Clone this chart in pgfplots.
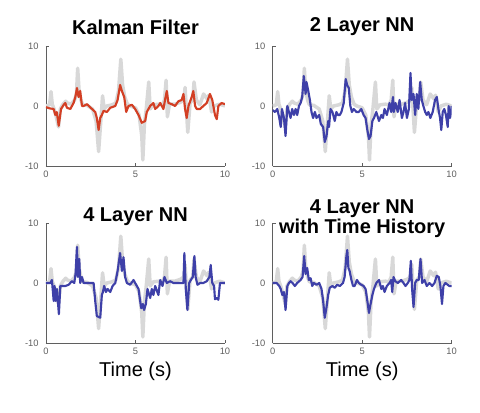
\documentclass[border=0pt]{standalone}
\usepackage{pgfplots}
\pgfplotsset{compat=1.18}
\usepackage{pgfplotstable}
\usepackage{fontspec}
\setmainfont{Liberation Sans}
\definecolor{truth}{RGB}{216,216,216}
\definecolor{kred}{RGB}{211,63,36}
\definecolor{nnblue}{RGB}{62,64,168}
\definecolor{axgray}{RGB}{95,95,95}

\pgfplotstableread{
t y
0.00 0
0.20 0.2
0.28 2.4
0.35 0.3
0.45 -0.5
0.55 -1.5
0.70 -3.5
0.80 -0.5
0.95 0.3
1.10 0.8
1.20 0.5
1.40 0.3
1.60 1.0
1.70 2.0
1.77 6.3
1.85 2.5
1.95 1.0
2.05 0.2
2.30 0.1
2.60 -0.5
2.80 -2.5
2.94 -7.6
3.05 -3.0
3.16 1.7
3.25 -0.5
3.40 0
3.70 0.2
3.90 0.5
4.05 2.5
4.18 7.8
4.28 3.5
4.40 1.5
4.55 0.3
4.70 0
5.00 -0.3
5.20 -1.5
5.35 -5
5.41 -9
5.50 -3
5.60 -0.5
5.74 4.0
5.82 -0.5
6.00 0.2
6.30 0.3
6.50 0.2
6.62 1.0
6.71 4.3
6.78 -1.8
6.90 0.3
7.20 0.3
7.50 0.6
7.70 1.0
7.77 3.1
7.92 -4.4
8.05 0.5
8.20 1.0
8.27 4.0
8.40 1.0
8.60 0.2
8.80 2.0
9.00 1.2
9.10 1.8
9.25 -1.0
9.40 0
9.70 0.3
10.0 0
}\truthtab

\pgfplotstableread{
t y
0.00 -0.2
0.20 -0.4
0.43 -0.5
0.52 -1.5
0.60 -1.0
0.65 -2.0
0.71 -3.3
0.84 -0.5
0.99 0.2
1.08 0.5
1.17 -0.3
1.36 -0.5
1.54 0.5
1.64 1.5
1.73 3.0
1.82 1.5
1.91 2.5
2.01 0.0
2.10 0.0
2.29 0.3
2.57 -0.5
2.75 -1.0
2.84 -2.0
2.94 -4.0
3.03 -2.0
3.12 -1.5
3.22 -0.8
3.40 -1.0
3.59 -0.3
3.87 0.0
4.00 1.0
4.14 3.5
4.24 2.5
4.37 1.5
4.48 -1.0
4.61 0.0
4.80 0.2
4.98 -0.5
5.17 -1.5
5.35 -2.8
5.54 -2.5
5.63 -1.0
5.82 0.0
6.00 0.5
6.10 -0.5
6.28 0.0
6.38 0.5
6.56 -0.5
6.65 1.0
6.75 2.5
6.84 0.5
7.03 0.3
7.21 0.0
7.40 0.8
7.58 1.0
7.68 2.0
7.77 -0.5
7.86 -2.0
7.96 0.0
8.14 1.5
8.23 2.5
8.33 0.0
8.42 -0.5
8.61 -0.5
8.79 0.0
8.98 0.5
9.16 2.0
9.29 1.0
9.44 -1.5
9.54 -2.2
9.63 0.0
9.81 0.5
10.00 0.3
}\kalmantab

\pgfplotstableread{
t y
0.00 -0.7
0.13 -1.0
0.26 -0.5
0.37 -2.0
0.45 -3.5
0.52 -0.5
0.63 -2.0
0.72 -5.0
0.82 0.0
0.91 -1.0
1.00 -2.0
1.09 -0.5
1.19 -1.5
1.28 -0.5
1.37 -1.5
1.47 0.0
1.56 0.5
1.65 1.5
1.74 5.0
1.84 2.0
1.89 4.0
1.99 2.5
2.08 1.0
2.17 -1.0
2.26 -2.0
2.36 -1.0
2.45 -2.0
2.60 -1.5
2.69 -3.0
2.82 -3.5
2.91 -6.0
3.01 -5.0
3.10 -2.5
3.15 -3.5
3.23 -0.5
3.34 -1.0
3.47 -2.5
3.56 -1.0
3.65 -1.5
3.75 -1.5
3.84 -1.0
3.97 0.5
4.08 4.5
4.16 3.5
4.25 3.0
4.34 0.0
4.43 -1.0
4.53 -0.5
4.68 -1.0
4.81 -1.0
4.95 -0.5
5.08 -1.5
5.19 -2.0
5.29 -4.0
5.38 -5.5
5.47 -5.0
5.57 -2.5
5.66 -2.0
5.79 -1.0
5.94 -2.5
6.07 -1.5
6.16 -2.0
6.25 -0.5
6.38 -1.5
6.53 0.5
6.62 -1.0
6.72 1.5
6.77 -1.0
6.86 0.5
6.99 -1.0
7.09 1.0
7.22 -2.0
7.31 -1.0
7.40 0.5
7.50 -2.0
7.61 -0.5
7.70 5.5
7.77 1.0
7.87 2.0
7.96 -1.5
8.05 2.0
8.14 -0.5
8.24 4.0
8.33 1.0
8.42 0.0
8.52 -1.0
8.61 -1.5
8.70 -1.0
8.81 -2.0
8.94 -1.0
9.07 1.0
9.17 1.5
9.26 -0.5
9.35 -2.0
9.42 -4.0
9.50 -1.0
9.59 -0.5
9.68 -1.5
9.78 -3.5
9.83 0.0
9.91 -2.0
10.00 0.0
}\twotab

\pgfplotstableread{
t y
0.00 0.0
0.24 0.0
0.33 0.5
0.43 -3.0
0.48 -0.5
0.54 -3.0
0.61 -1.0
0.72 -5.2
0.80 -0.5
0.89 -0.5
1.08 -0.5
1.26 -0.3
1.45 0.3
1.58 0.0
1.65 1.5
1.73 6.0
1.78 1.0
1.86 4.0
1.91 0.0
2.01 1.0
2.10 0.0
2.25 0.0
2.38 0.0
2.66 0.0
2.75 -3.0
2.84 -5.5
3.03 -5.8
3.12 -2.0
3.18 -1.5
3.25 -0.5
3.35 -1.5
3.44 -1.0
3.59 -1.5
3.72 -0.5
3.87 0.0
4.00 2.0
4.14 5.0
4.24 2.0
4.33 4.3
4.42 1.0
4.52 0.0
4.70 -0.3
4.89 0.5
4.98 0.0
5.17 -1.0
5.26 -3.0
5.32 -4.2
5.41 -3.5
5.48 -4.5
5.58 -3.5
5.67 -1.0
5.82 -2.5
5.91 -1.0
6.00 -2.0
6.10 -0.5
6.28 -2.0
6.38 0.5
6.51 -0.5
6.62 1.0
6.75 0.0
6.93 0.3
7.12 0.0
7.40 0.0
7.58 0.0
7.68 0.0
7.73 5.0
7.81 -1.0
7.90 -4.5
8.00 0.0
8.09 0.5
8.20 1.0
8.29 4.5
8.36 1.0
8.46 -0.3
8.61 0.0
8.79 0.0
8.98 0.3
9.13 1.0
9.20 3.0
9.29 0.0
9.39 -0.5
9.44 -2.7
9.54 -2.5
9.63 -2.8
9.72 0.0
10.00 0.0
}\fourtab

\pgfplotstableread{
t y
0.00 0.0
0.22 0.0
0.37 -0.5
0.45 -1.0
0.54 -2.0
0.63 -1.5
0.72 -4.5
0.82 -0.5
0.91 0.0
1.00 0.3
1.11 0.0
1.24 -0.5
1.37 0.0
1.56 0.5
1.67 1.0
1.76 4.5
1.84 1.5
1.93 2.5
2.02 0.5
2.12 0.8
2.21 -0.5
2.30 0.0
2.45 -0.3
2.60 0.0
2.73 -1.0
2.82 -3.0
2.91 -5.8
3.01 -4.0
3.10 -2.0
3.19 -0.8
3.34 -0.5
3.47 -0.8
3.60 -0.3
3.75 -0.5
3.93 0.0
4.02 1.0
4.12 4.5
4.17 5.5
4.23 2.5
4.30 2.0
4.40 0.5
4.49 -0.5
4.58 -0.5
4.71 0.5
4.82 0.0
4.95 -0.3
5.08 -0.5
5.19 -1.0
5.29 -3.0
5.38 -5.0
5.47 -3.5
5.57 -2.0
5.66 -1.0
5.79 0.0
5.94 0.5
6.07 -1.0
6.16 -0.5
6.25 -1.5
6.38 -0.5
6.53 0.0
6.62 0.5
6.68 -1.5
6.75 1.0
6.85 0.3
6.99 0.0
7.18 0.5
7.31 0.0
7.42 -0.5
7.55 0.0
7.64 0.5
7.72 3.7
7.79 -1.0
7.87 -4.0
7.96 0.0
8.05 0.5
8.16 0.5
8.26 4.0
8.35 0.0
8.48 0.5
8.61 -0.5
8.76 0.0
8.91 -0.5
9.04 0.0
9.17 1.2
9.28 1.0
9.37 -0.5
9.46 -3.5
9.54 -0.5
9.65 0.0
9.78 -0.3
9.87 -0.5
10.00 -0.5
}\histtab

\pgfplotsset{
  panel/.style={
    scale only axis, width=134.25pt, height=90pt,
    xmin=0, xmax=10, ymin=-10, ymax=10,
    axis x line*=bottom, axis y line*=left,
    xtick={0,5,10}, xticklabels={0,5,10},
    ytick={-10,0,10}, yticklabels={-10,0,10},
    tick align=inside, major tick length=2.5pt,
    axis line style={axgray, line width=0.6pt},
    tick style={axgray, line width=0.6pt},
    tick label style={font=\fontsize{7}{8}\selectfont, text=axgray},
    yticklabel style={xshift=-2pt},
    every axis title/.style={at={(0.5,1)}, anchor=center, align=center,
      font=\fontsize{15}{15}\selectfont\bfseries},
    every axis x label/.style={at={(0.5,0)}, anchor=center, yshift=-21pt,
      font=\fontsize{15}{16}\selectfont},
  },
  truthline/.style={truth, line width=2.6pt, line join=round},
  estline/.style={line width=1.6pt, line join=round},
}

\begin{document}
\begin{tikzpicture}
\useasboundingbox (0,0) rectangle (360pt,309.75pt);

\begin{axis}[panel, at={(34.5pt,185.25pt)}, anchor=south west,
  title={Kalman Filter}, title style={yshift=14.25pt}]
\addplot[truthline] table[x=t,y=y] {\truthtab};
\addplot[estline, kred] table[x=t,y=y] {\kalmantab};
\end{axis}

\begin{axis}[panel, at={(204.5pt,185.25pt)}, anchor=south west,
  title={2 Layer NN}, title style={yshift=14.25pt}]
\addplot[truthline] table[x=t,y=y] {\truthtab};
\addplot[estline, nnblue] table[x=t,y=y] {\twotab};
\end{axis}

\begin{axis}[panel, at={(34.5pt,52.5pt)}, anchor=south west,
  title={4 Layer NN}, title style={yshift=5pt}, xlabel={Time (s)}]
\addplot[truthline] table[x=t,y=y] {\truthtab};
\addplot[estline, nnblue] table[x=t,y=y] {\fourtab};
\end{axis}

\begin{axis}[panel, at={(204.5pt,52.5pt)}, anchor=south west,
  title={4 Layer NN\\with Time History}, title style={yshift=3.5pt}, xlabel={Time (s)}]
\addplot[truthline] table[x=t,y=y] {\truthtab};
\addplot[estline, nnblue] table[x=t,y=y] {\histtab};
\end{axis}
\end{tikzpicture}
\end{document}
